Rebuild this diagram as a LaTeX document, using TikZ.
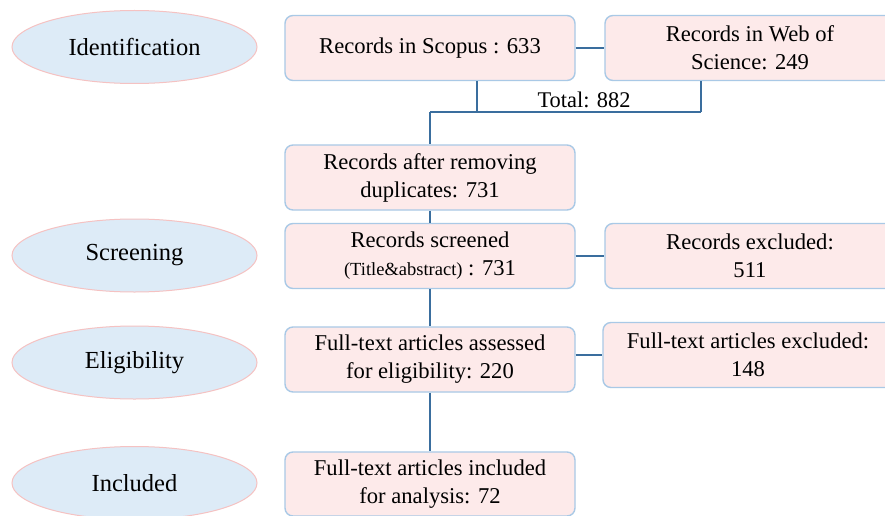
\documentclass[tikz,border=0pt]{standalone}
\usepackage{fontspec}
\setmainfont{Liberation Serif}
\usetikzlibrary{shapes.geometric,calc}
\definecolor{boxfill}{HTML}{FDEAEA}
\definecolor{boxedge}{HTML}{A9C9E6}
\definecolor{ellfill}{HTML}{DDEBF7}
\definecolor{elledge}{HTML}{F5C2C2}
\definecolor{linkcol}{HTML}{3A6E9E}
\begin{document}
\begin{tikzpicture}[x=1pt,y=-1pt,
  stagebox/.style={rectangle, rounded corners=8pt, draw=boxedge, line width=1.4pt, fill=boxfill,
     minimum width=290pt, minimum height=65pt, inner sep=2pt, align=center,
     font=\fontsize{22.6}{28}\selectfont},
  phase/.style={ellipse, draw=elledge, line width=1pt, fill=ellfill,
     minimum width=245pt, minimum height=73pt, inner sep=0pt,
     font=\fontsize{24.5}{28}\selectfont},
  link/.style={draw=linkcol, line width=2pt},
  lbl/.style={inner sep=0pt, font=\fontsize{22.4}{26}\selectfont}]
\useasboundingbox (0,0) rectangle (885,516);
\clip (0,0) rectangle (885,516);
\fill[white] (0,0) rectangle (885,516);
% phases
\node[phase] (pid) at (134.5,47) {Identification};
\node[phase] (pscr) at (134.5,255.5) {Screening};
\node[phase] (pel) at (134.5,362.5) {Eligibility};
\node[phase] (pinc) at (134.5,483) {Included};
% boxes
\node[stagebox] (scopus) at (430,48) {Records in Scopus : 633};
\node[stagebox] (wos) at (750,48) {Records in Web of\\Science: 249};
\node[stagebox] (dup) at (430,177.5) {Records after removing\\duplicates: 731};
\node[stagebox] (scr) at (430,256) {Records screened\\{\fontsize{18.5}{20}\selectfont(Title\&abstract)} : 731};
\node[stagebox] (rex) at (750,256) {Records excluded:\\511};
\node[stagebox] (elig) at (430,359.5) {Full-text articles assessed\\for eligibility: 220};
\node[stagebox] (ftex) at (748,355) {Full-text articles excluded:\\148};
\node[stagebox, minimum height=64pt] (inc) at (430,484) {Full-text articles included\\for analysis: 72};
% junctions
\coordinate (j0) at (430,112);
\coordinate (j1) at (477,112);
\coordinate (j2) at (701,112);
\node[lbl] (total) at (584,100) {Total: 882};
% connectors
\draw[link] (scopus.east) -- (wos.west);
\draw[link] (scopus.south -| j1) -- (j1);
\draw[link] (wos.south -| j2) -- (j2);
\draw[link] (j0) -- (j2);
\draw[link] (j0) -- (dup.north);
\draw[link] (dup.south) -- (scr.north);
\draw[link] (scr.east) -- (rex.west);
\draw[link] (scr.south) -- (elig.north);
\draw[link] (elig.east |- ftex.west) -- (ftex.west);
\draw[link] (elig.south) -- (inc.north);
\end{tikzpicture}
\end{document}
